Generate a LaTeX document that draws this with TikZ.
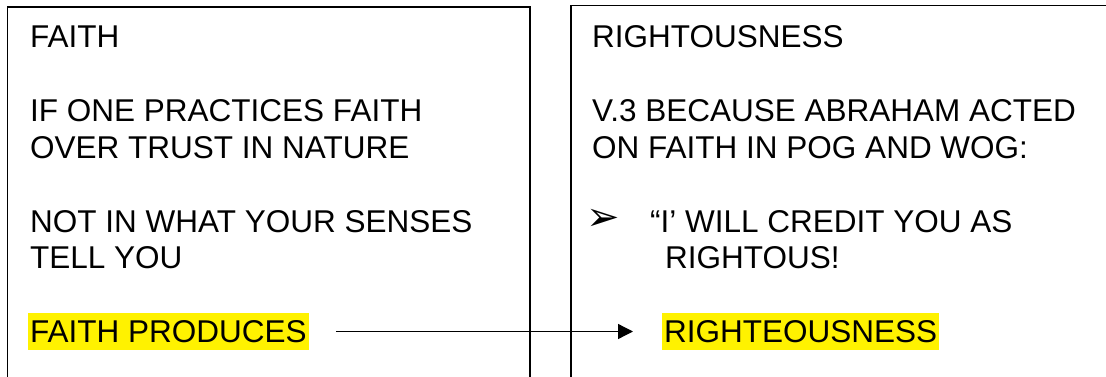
\documentclass[tikz,border=0pt]{standalone}
\usepackage{fontspec}
\setmainfont{Liberation Sans}
\newfontfamily\dejavu{DejaVu Sans}
\usetikzlibrary{arrows.meta}
\begin{document}
\begin{tikzpicture}[x=1pt,y=-1pt,
  txt/.style={anchor=base west,inner sep=0pt,font=\fontsize{31.5}{37}\selectfont},
  hl/.style={anchor=base west,inner xsep=2pt,inner ysep=0pt,fill=yellow,
    text height=29pt,text depth=8pt,font=\fontsize{31.5}{37}\selectfont},
  frame/.style={line width=1.6pt,black},
  conn/.style={line width=1.3pt,-{Triangle[length=15pt,width=15pt]}}]
\useasboundingbox (0,0) rectangle (1106,377);
\fill[white] (0,0) rectangle (1106,377);
% frames
\draw[frame] (7.5,380) -- (7.5,7.3) -- (530,7.3) -- (530,380);
\draw[frame] (570.7,380) -- (570.7,5.7) -- (1110,5.7);
% left text
\node[txt] (l1) at (30,48) {FAITH};
\node[txt] (l2) at (30,122) {IF ONE PRACTICES FAITH};
\node[txt] (l3) at (30,158) {OVER TRUST IN NATURE};
\node[txt] (l4) at (30,232) {NOT IN WHAT YOUR SENSES};
\node[txt] (l5) at (30,268) {TELL YOU};
\node[hl] (fp) at (28,342) {FAITH PRODUCES};
% right text
\node[txt] (r1) at (592,48) {RIGHTOUSNESS};
\node[txt] (r2) at (592,122) {V.3 BECAUSE ABRAHAM ACTED};
\node[txt] (r3) at (592,158) {ON FAITH IN POG AND WOG:};
\node[anchor=center,inner sep=0pt,font=\dejavu\fontsize{40}{40}\selectfont] (bul) at (603,220) {➢};
\node[txt] (r4) at (650,232) {“I’ WILL CREDIT YOU AS};
\node[txt] (r5) at (665,268) {RIGHTOUS!};
\node[hl] (rs) at (662,342) {RIGHTEOUSNESS};
% connector
\draw[conn,shorten <=27pt,shorten >=29pt] (fp.east) -- (rs.west);
\end{tikzpicture}
\end{document}
